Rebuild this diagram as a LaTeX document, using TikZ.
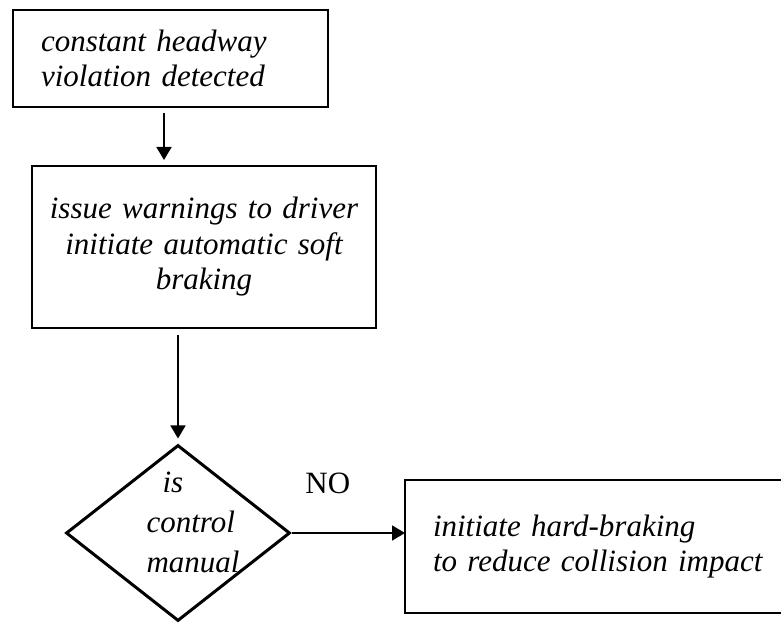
\documentclass[tikz,border=0pt]{standalone}
\usepackage{fontspec}
\setmainfont{Liberation Serif}
\usetikzlibrary{shapes.geometric, arrows.meta}
\begin{document}
\begin{tikzpicture}[x=1pt, y=1pt, font=\fontsize{31}{35.5}\selectfont\itshape]
    % Define styles
    \tikzset{
        stepbox/.style={rectangle, draw, line width=2pt, inner sep=0pt, outer sep=0pt},
        decision/.style={diamond, draw, line width=3pt, minimum width=224pt, minimum height=176pt, inner sep=0pt},
        arrow/.style={->, >={Triangle[length=13pt, width=15pt]}, line width=1.6pt},
    }
    \useasboundingbox (0,0) rectangle (781,624);

    % Detection and soft braking
    \node[stepbox, minimum width=315pt, minimum height=97pt, text width=259pt, align=left] (detect) at (170.5,565.5) {constant headway\\violation detected};
    \node[stepbox, minimum width=344pt, minimum height=162pt, text width=320pt, align=center] (warn) at (204,377) {issue warnings to driver\\initiate automatic soft\\braking};

    % Decision
    \node[decision, label={[align=left, xshift=15pt, yshift=11pt, font=\fontsize{31}{40}\selectfont\itshape]center:{\hspace*{16pt}is\\control\\manual}}] (check) at (178,91) {};

    % Hard braking
    \node[stepbox, minimum width=395pt, minimum height=133pt, text width=339pt, align=left] (harsh) at (602.5,77.5) {initiate hard-braking\\to reduce collision impact};

    \draw[arrow, shorten <=6pt, shorten >=6pt] ([xshift=-6.5pt]detect.south) -- ([xshift=-6.5pt]detect.south |- warn.north);
    \draw[arrow, shorten <=7pt, shorten >=5pt] (check.north |- warn.south) -- (check.north);
    \draw[arrow] (check.east) -- node[above=35pt, pos=0.32, font=\fontsize{31}{36}\selectfont\upshape] (no) {NO} (check.east -| harsh.west);
\end{tikzpicture}
\end{document}
